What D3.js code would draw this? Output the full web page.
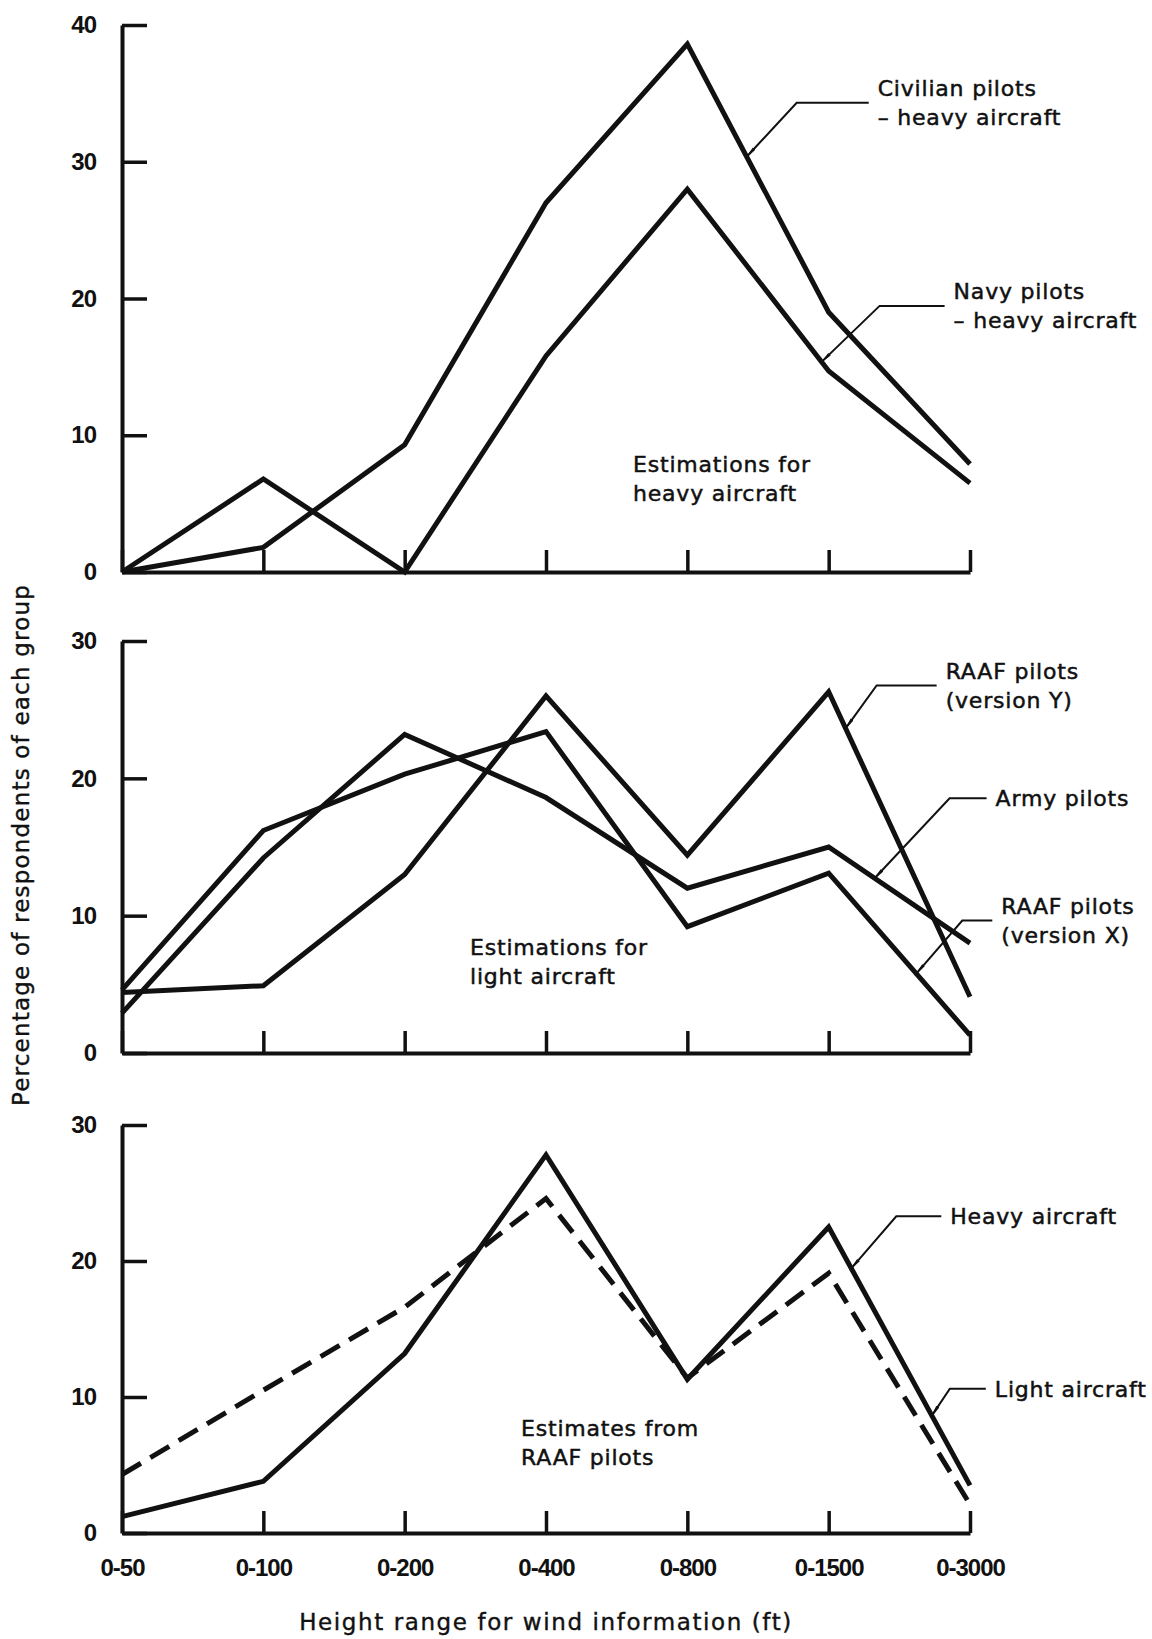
<!DOCTYPE html>
<html lang="en">
<head>
<meta charset="UTF-8">
<title>Height range for wind information</title>
<script src="https://d3js.org/d3.v7.min.js"></script>
<style>
  body { margin: 0; background: #fff; }
  svg { display: block; background: #fff; }
  .series { fill: none; stroke: #111; stroke-width: 5; stroke-linejoin: miter; }
  .dashed { stroke-dasharray: 22 11; }
  .axis path, .axis line { stroke: #111; }
  .axis path { stroke-width: 4; }
  .axis line { stroke-width: 3.5; }
  .axis text { font-family: "Liberation Sans Narrow", "Liberation Sans", Arial, sans-serif; font-size: 24px; font-weight: bold; letter-spacing: -1px; fill: #111; }
  .note { font-family: "DejaVu Sans", sans-serif; font-size: 22px; letter-spacing: 0.8px; fill: #111; stroke: #111; stroke-width: 0.5px; }
  .title { font-family: "DejaVu Sans", sans-serif; font-size: 23px; letter-spacing: 1.6px; fill: #111; stroke: #111; stroke-width: 0.4px; }
  .ylabel { letter-spacing: 1.2px; }
  .pointer { fill: none; stroke: #111; stroke-width: 2; }
</style>
</head>
<body>
<svg id="chart" width="1152" height="1639"></svg>
<script>
// height ranges (ft) on the x axis
const categories = ["0-50", "0-100", "0-200", "0-400", "0-800", "0-1500", "0-3000"];
const ticksTop = [0, 10, 20, 30, 40];
const ticksLower = [0, 10, 20, 30];

// panel 1 - heavy aircraft
const civilianHeavy = [0, 1.8, 9.3, 27, 38.6, 19, 7.9];
const navyHeavy = [0, 6.8, 0, 15.8, 28, 14.7, 6.5];
// panel 2 - light aircraft
const raafY = [4.4, 4.9, 13, 26, 14.4, 26.3, 4.1];
const armyPilots = [2.9, 14.2, 23.2, 18.6, 12.0, 15.0, 8.0];
const raafX = [4.6, 16.2, 20.3, 23.4, 9.2, 13.1, 1.3];
// panel 3 - RAAF pilots
const raafHeavy = [1.2, 3.8, 13.2, 27.8, 11.3, 22.5, 3.5];
const raafLight = [4.3, 10.5, 16.6, 24.6, 11.4, 19.1, 2.1];

const svg = d3.select("#chart");

const x = d3.scalePoint().domain(categories).range([122, 970]);

const panels = [
    {top: 25, bottom: 572, max: 40, ticks: ticksTop, labels: false,
     series: [{values: civilianHeavy}, {values: navyHeavy}]},
    {top: 641, bottom: 1053, max: 30, ticks: ticksLower, labels: false,
     series: [{values: raafY}, {values: armyPilots}, {values: raafX}]},
    {top: 1125, bottom: 1533, max: 30, ticks: ticksLower, labels: true,
     series: [{values: raafHeavy}, {values: raafLight, dashed: true}]}
];

svg.append("defs").append("marker")
    .attr("id", "tip")
    .attr("viewBox", "0 0 14 6")
    .attr("refX", 11).attr("refY", 3)
    .attr("markerWidth", 14).attr("markerHeight", 6)
    .attr("markerUnits", "userSpaceOnUse")
    .attr("orient", "auto")
    .append("path")
    .attr("d", "M0,1.3 L14,3 L0,4.7 Z")
    .attr("fill", "#111");

panels.forEach(p => {
    p.y = d3.scaleLinear().domain([0, p.max]).range([p.bottom, p.top]);

    svg.append("g")
        .attr("class", "axis")
        .attr("transform", `translate(0,${p.bottom})`)
        .call(d3.axisBottom(x).tickSize(-22).tickSizeOuter(0).tickPadding(26)
            .tickFormat(d => p.labels ? d : ""));

    svg.append("g")
        .attr("class", "axis")
        .attr("transform", `translate(${x.range()[0]},0)`)
        .call(d3.axisLeft(p.y).tickValues(p.ticks).tickSize(-25).tickSizeOuter(0).tickPadding(26));

    const line = d3.line().x((d, i) => x(categories[i])).y(d => p.y(d));
    p.series.forEach(s => {
        svg.append("path")
            .datum(s.values)
            .attr("class", s.dashed ? "series dashed" : "series")
            .attr("d", line);
    });
});

// labels with pointers: tip sits on a segment of a series (seg start index + fraction)
const notes = [
    {panel: 0, values: civilianHeavy, seg: 4, t: 0.42, dx: 50, dy: -54, len: 72, lines: ["Civilian pilots", "\u2013 heavy aircraft"]},
    {panel: 0, values: navyHeavy, seg: 4, t: 0.95, dx: 58, dy: -56, len: 65, lines: ["Navy pilots", "\u2013 heavy aircraft"]},
    {panel: 1, values: raafY, seg: 5, t: 0.12, dx: 31, dy: -43, len: 60, lines: ["RAAF pilots", "(version Y)"]},
    {panel: 1, values: armyPilots, seg: 5, t: 0.325, dx: 75, dy: -80, len: 37, lines: ["Army pilots"]},
    {panel: 1, values: raafX, seg: 5, t: 0.62, dx: 46, dy: -53, len: 30, lines: ["RAAF pilots", "(version X)"]},
    {panel: 2, values: raafHeavy, seg: 5, t: 0.16, dx: 45, dy: -52, len: 45, lines: ["Heavy aircraft"]},
    {panel: 2, values: raafHeavy, seg: 5, t: 0.73, dx: 18, dy: -27, len: 36, lines: ["Light aircraft"]}
];

notes.forEach(n => {
    const p = panels[n.panel];
    const x0 = x(categories[n.seg]), x1 = x(categories[n.seg + 1]);
    const y0 = p.y(n.values[n.seg]), y1 = p.y(n.values[n.seg + 1]);
    const tx = x0 + (x1 - x0) * n.t, ty = y0 + (y1 - y0) * n.t;
    const ex = tx + n.dx, ey = ty + n.dy;
    const hx = ex + n.len;

    svg.append("path")
        .attr("class", "pointer")
        .attr("d", `M${hx},${ey} L${ex},${ey} L${tx},${ty}`)
        .attr("marker-end", "url(#tip)");

    const off = (n.lines.length - 1) * 14.5;
    n.lines.forEach((s, i) => {
        svg.append("text")
            .attr("class", "note")
            .attr("x", hx + 9)
            .attr("y", ey - off + i * 29 + 8)
            .text(s);
    });
});

// panel captions
const captions = [
    {x: 633, y: 472, lines: ["Estimations for", "heavy aircraft"]},
    {x: 470, y: 955, lines: ["Estimations for", "light aircraft"]},
    {x: 521, y: 1436, lines: ["Estimates from", "RAAF pilots"]}
];
captions.forEach(c => {
    c.lines.forEach((s, i) => {
        svg.append("text")
            .attr("class", "note")
            .attr("x", c.x)
            .attr("y", c.y + i * 29)
            .text(s);
    });
});

svg.append("text")
    .attr("class", "title")
    .attr("text-anchor", "middle")
    .attr("x", 546).attr("y", 1630)
    .text("Height range for wind information (ft)");

svg.append("text")
    .attr("class", "title ylabel")
    .attr("text-anchor", "middle")
    .attr("transform", "translate(29,845) rotate(-90)")
    .text("Percentage of respondents of each group");
</script>
</body>
</html>
